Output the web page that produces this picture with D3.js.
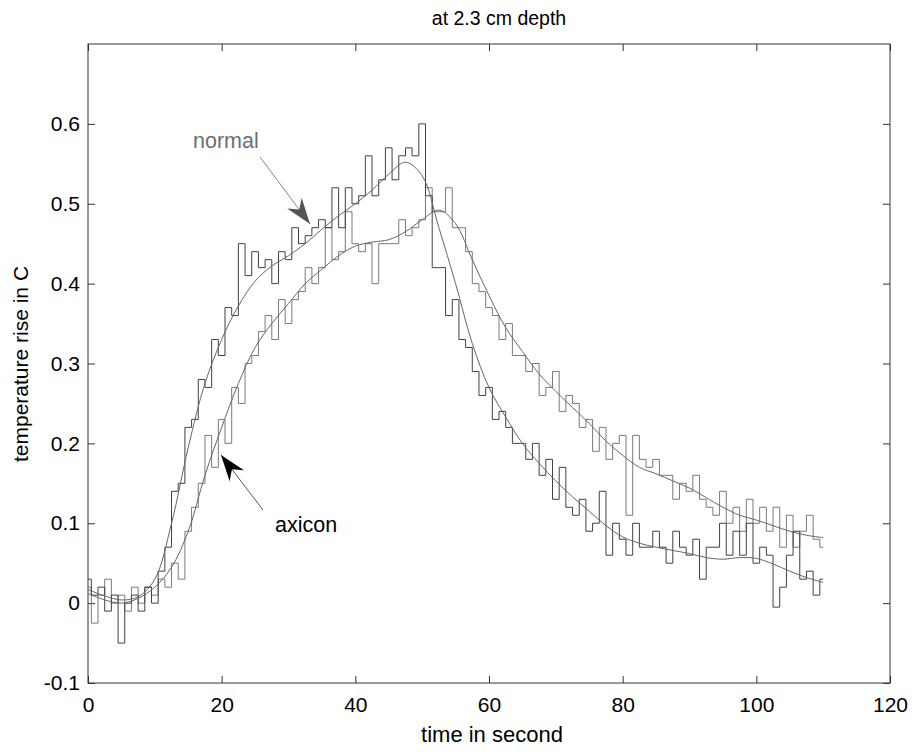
<!DOCTYPE html>
<html>
<head>
<meta charset="utf-8">
<script src="https://cdn.jsdelivr.net/npm/d3@7"></script>
<style>
  body { margin: 0; background: #fff; }
  text { font-family: "Liberation Sans", Arial, sans-serif; }
</style>
</head>
<body>
<script>
// raw samples, one per second from 0 to 110 s
var rawNormal = [0.03, 0.01, 0.02, -0.01, 0.01, -0.05, 0.0, 0.01, -0.01, 0.02,
  0.0, 0.04, 0.07, 0.14, 0.15, 0.22, 0.23, 0.28, 0.27, 0.33,
  0.31, 0.37, 0.36, 0.45, 0.41, 0.44, 0.42, 0.43, 0.40, 0.44,
  0.43, 0.47, 0.45, 0.46, 0.47, 0.48, 0.47, 0.52, 0.47, 0.52,
  0.50, 0.51, 0.56, 0.51, 0.53, 0.57, 0.53, 0.56, 0.57, 0.56,
  0.60, 0.51, 0.42, 0.42, 0.36, 0.38, 0.33, 0.32, 0.29, 0.26,
  0.27, 0.23, 0.24, 0.22, 0.20, 0.20, 0.18, 0.20, 0.16, 0.18,
  0.13, 0.17, 0.12, 0.11, 0.13, 0.09, 0.10, 0.14, 0.06, 0.10,
  0.08, 0.06, 0.10, 0.07, 0.07, 0.09, 0.07, 0.05, 0.09, 0.07,
  0.06, 0.08, 0.03, 0.07, 0.07, 0.10, 0.06, 0.09, 0.06, 0.10,
  0.05, 0.07, 0.06, -0.005, 0.02, 0.06, 0.09, 0.03, 0.04, 0.01, 0.03];
var rawAxicon = [0.02, -0.025, 0.01, 0.03, 0.0, 0.01, -0.01, 0.02, 0.0, 0.02,
  0.01, 0.03, 0.02, 0.05, 0.03, 0.09, 0.12, 0.15, 0.21, 0.17,
  0.23, 0.20, 0.27, 0.25, 0.30, 0.31, 0.34, 0.36, 0.33, 0.38,
  0.35, 0.38, 0.39, 0.42, 0.40, 0.42, 0.47, 0.43, 0.44, 0.49,
  0.45, 0.44, 0.45, 0.40, 0.45, 0.45, 0.45, 0.48, 0.46, 0.47,
  0.48, 0.52, 0.49, 0.49, 0.52, 0.47, 0.47, 0.44, 0.40, 0.39,
  0.37, 0.36, 0.33, 0.35, 0.31, 0.31, 0.29, 0.30, 0.26, 0.27,
  0.29, 0.24, 0.26, 0.25, 0.22, 0.23, 0.19, 0.22, 0.18, 0.20,
  0.21, 0.11, 0.21, 0.18, 0.17, 0.18, 0.16, 0.16, 0.13, 0.15,
  0.14, 0.16, 0.13, 0.12, 0.11, 0.14, 0.10, 0.12, 0.09, 0.13,
  0.10, 0.12, 0.09, 0.12, 0.07, 0.11, 0.07, 0.09, 0.11, 0.08, 0.07];

// fitted curves, every 2.5 s
var fitTimes = d3.range(0, 110.01, 2.5);
var fitNormal = [0.017, 0.009, 0.004, 0.008, 0.03, 0.1, 0.195, 0.275, 0.33, 0.372,
  0.403, 0.422, 0.435, 0.45, 0.468, 0.485, 0.5, 0.517, 0.537, 0.552,
  0.535, 0.47, 0.40, 0.325, 0.27, 0.233, 0.2, 0.175, 0.153, 0.133,
  0.115, 0.097, 0.083, 0.075, 0.07, 0.066, 0.062, 0.057, 0.055, 0.057,
  0.056, 0.049, 0.04, 0.032, 0.026];
var fitAxicon = [0.012, 0.004, 0.0, 0.006, 0.02, 0.045, 0.09, 0.16, 0.22, 0.275,
  0.32, 0.35, 0.375, 0.4, 0.418, 0.435, 0.447, 0.452, 0.455, 0.465,
  0.48, 0.492, 0.475, 0.43, 0.385, 0.345, 0.315, 0.287, 0.265, 0.245,
  0.225, 0.203, 0.185, 0.17, 0.162, 0.153, 0.144, 0.132, 0.12, 0.11,
  0.104, 0.097, 0.09, 0.085, 0.082];

var xTicks = [0, 20, 40, 60, 80, 100, 120];
var yTicks = [-0.1, 0, 0.1, 0.2, 0.3, 0.4, 0.5, 0.6];

var width = 921, height = 752;
var plotL = 88, plotR = 890, plotT = 44, plotB = 683;

var svg = d3.select("body").append("svg")
  .attr("width", width)
  .attr("height", height);

var x = d3.scaleLinear().domain([0, 120]).range([plotL, plotR]);
var y = d3.scaleLinear().domain([-0.1, 0.7]).range([plotB, plotT]);

// axes with inward ticks, matlab style
var tickLen = 7;
svg.append("g").attr("transform", "translate(0," + plotB + ")")
  .call(d3.axisBottom(x).tickValues(xTicks).tickSize(-tickLen).tickPadding(14).tickFormat(d3.format("d")));
svg.append("g").attr("transform", "translate(0," + plotT + ")")
  .call(d3.axisTop(x).tickValues(xTicks).tickSize(-tickLen).tickFormat(""));
svg.append("g").attr("transform", "translate(" + plotL + ",0)")
  .call(d3.axisLeft(y).tickValues(yTicks).tickSize(-tickLen).tickPadding(8)
    .tickFormat(function(d) { return d === 0 ? "0" : d.toFixed(1); }));
svg.append("g").attr("transform", "translate(" + plotR + ",0)")
  .call(d3.axisRight(y).tickValues(yTicks).tickSize(-tickLen).tickFormat(""));

svg.selectAll(".domain").remove();
svg.selectAll(".tick line").attr("stroke", "#333");
svg.selectAll(".tick text").attr("font-size", "21px").attr("fill", "#000")
  .attr("font-family", "'Liberation Sans', Arial, sans-serif");

svg.append("rect")
  .attr("x", plotL).attr("y", plotT)
  .attr("width", plotR - plotL).attr("height", plotB - plotT)
  .attr("fill", "none").attr("stroke", "#333").attr("stroke-width", 1);

// curves
var rawLine = d3.line()
  .x(function(d, i) { return x(i); })
  .y(function(d) { return y(d); })
  .curve(d3.curveStep);
var fitLine = d3.line()
  .x(function(d, i) { return x(fitTimes[i]); })
  .y(function(d) { return y(d); })
  .curve(d3.curveCatmullRom);

svg.append("path").datum(rawAxicon).attr("d", rawLine)
  .attr("fill", "none").attr("stroke", "#7a7a7a").attr("stroke-width", 1);
svg.append("path").datum(rawNormal).attr("d", rawLine)
  .attr("fill", "none").attr("stroke", "#404040").attr("stroke-width", 1);
svg.append("path").datum(fitAxicon).attr("d", fitLine)
  .attr("fill", "none").attr("stroke", "#666").attr("stroke-width", 1);
svg.append("path").datum(fitNormal).attr("d", fitLine)
  .attr("fill", "none").attr("stroke", "#666").attr("stroke-width", 1);

// annotations with arrows
function arrow(x1, y1, x2, y2, col, lineCol) {
  svg.append("line")
    .attr("x1", x1).attr("y1", y1).attr("x2", x2).attr("y2", y2)
    .attr("stroke", lineCol).attr("stroke-width", 1);
  var a = Math.atan2(y2 - y1, x2 - x1);
  var len = 26, w = 9, back = 18;
  var p = [
    [x2, y2],
    [x2 - len * Math.cos(a) + w * Math.sin(a), y2 - len * Math.sin(a) - w * Math.cos(a)],
    [x2 - back * Math.cos(a), y2 - back * Math.sin(a)],
    [x2 - len * Math.cos(a) - w * Math.sin(a), y2 - len * Math.sin(a) + w * Math.cos(a)]
  ];
  svg.append("path").attr("d", "M" + p.join("L") + "Z").attr("fill", col);
}
arrow(260, 157, 310, 224, "#555", "#888");
arrow(263, 510, 221, 455, "#000", "#555");

svg.append("text").attr("x", 193).attr("y", 148)
  .attr("font-size", "21.5px").attr("fill", "#6e6e6e").text("normal");
svg.append("text").attr("x", 275).attr("y", 532)
  .attr("font-size", "21.5px").attr("fill", "#000").text("axicon");

// titles
svg.append("text").attr("x", 499).attr("y", 25).attr("text-anchor", "middle")
  .attr("font-size", "19.5px").text("at 2.3 cm depth");
svg.append("text").attr("x", 492).attr("y", 742).attr("text-anchor", "middle")
  .attr("font-size", "22px").text("time in second");
svg.append("text").attr("transform", "translate(28,364) rotate(-90)").attr("text-anchor", "middle")
  .attr("font-size", "21px").text("temperature rise in C");
</script>
</body>
</html>
